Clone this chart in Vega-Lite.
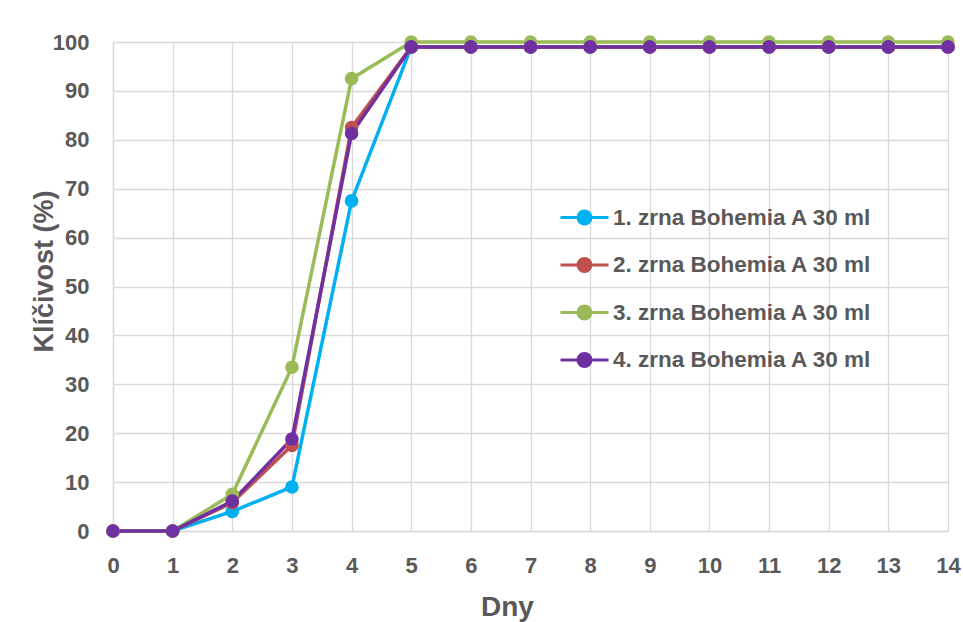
{
  "$schema": "https://vega.github.io/schema/vega-lite/v6.json",
  "width": 835,
  "height": 489,
  "autosize": {"type": "none"},
  "padding": {"left": 113, "top": 42, "right": 15, "bottom": 91},
  "background": "white",
  "data": {
    "values": [
      {"day": 0, "series": "1. zrna Bohemia A 30 ml", "value": 0},
      {"day": 1, "series": "1. zrna Bohemia A 30 ml", "value": 0},
      {"day": 2, "series": "1. zrna Bohemia A 30 ml", "value": 4},
      {"day": 3, "series": "1. zrna Bohemia A 30 ml", "value": 9},
      {"day": 4, "series": "1. zrna Bohemia A 30 ml", "value": 67.5},
      {"day": 5, "series": "1. zrna Bohemia A 30 ml", "value": 99},
      {"day": 6, "series": "1. zrna Bohemia A 30 ml", "value": 99},
      {"day": 7, "series": "1. zrna Bohemia A 30 ml", "value": 99},
      {"day": 8, "series": "1. zrna Bohemia A 30 ml", "value": 99},
      {"day": 9, "series": "1. zrna Bohemia A 30 ml", "value": 99},
      {"day": 10, "series": "1. zrna Bohemia A 30 ml", "value": 99},
      {"day": 11, "series": "1. zrna Bohemia A 30 ml", "value": 99},
      {"day": 12, "series": "1. zrna Bohemia A 30 ml", "value": 99},
      {"day": 13, "series": "1. zrna Bohemia A 30 ml", "value": 99},
      {"day": 14, "series": "1. zrna Bohemia A 30 ml", "value": 99},
      {"day": 0, "series": "2. zrna Bohemia A 30 ml", "value": 0},
      {"day": 1, "series": "2. zrna Bohemia A 30 ml", "value": 0},
      {"day": 2, "series": "2. zrna Bohemia A 30 ml", "value": 5.8},
      {"day": 3, "series": "2. zrna Bohemia A 30 ml", "value": 17.5},
      {"day": 4, "series": "2. zrna Bohemia A 30 ml", "value": 82.5},
      {"day": 5, "series": "2. zrna Bohemia A 30 ml", "value": 99},
      {"day": 6, "series": "2. zrna Bohemia A 30 ml", "value": 99},
      {"day": 7, "series": "2. zrna Bohemia A 30 ml", "value": 99},
      {"day": 8, "series": "2. zrna Bohemia A 30 ml", "value": 99},
      {"day": 9, "series": "2. zrna Bohemia A 30 ml", "value": 99},
      {"day": 10, "series": "2. zrna Bohemia A 30 ml", "value": 99},
      {"day": 11, "series": "2. zrna Bohemia A 30 ml", "value": 99},
      {"day": 12, "series": "2. zrna Bohemia A 30 ml", "value": 99},
      {"day": 13, "series": "2. zrna Bohemia A 30 ml", "value": 99},
      {"day": 14, "series": "2. zrna Bohemia A 30 ml", "value": 99},
      {"day": 0, "series": "3. zrna Bohemia A 30 ml", "value": 0},
      {"day": 1, "series": "3. zrna Bohemia A 30 ml", "value": 0},
      {"day": 2, "series": "3. zrna Bohemia A 30 ml", "value": 7.5},
      {"day": 3, "series": "3. zrna Bohemia A 30 ml", "value": 33.5},
      {"day": 4, "series": "3. zrna Bohemia A 30 ml", "value": 92.5},
      {"day": 5, "series": "3. zrna Bohemia A 30 ml", "value": 100},
      {"day": 6, "series": "3. zrna Bohemia A 30 ml", "value": 100},
      {"day": 7, "series": "3. zrna Bohemia A 30 ml", "value": 100},
      {"day": 8, "series": "3. zrna Bohemia A 30 ml", "value": 100},
      {"day": 9, "series": "3. zrna Bohemia A 30 ml", "value": 100},
      {"day": 10, "series": "3. zrna Bohemia A 30 ml", "value": 100},
      {"day": 11, "series": "3. zrna Bohemia A 30 ml", "value": 100},
      {"day": 12, "series": "3. zrna Bohemia A 30 ml", "value": 100},
      {"day": 13, "series": "3. zrna Bohemia A 30 ml", "value": 100},
      {"day": 14, "series": "3. zrna Bohemia A 30 ml", "value": 100},
      {"day": 0, "series": "4. zrna Bohemia A 30 ml", "value": 0},
      {"day": 1, "series": "4. zrna Bohemia A 30 ml", "value": 0},
      {"day": 2, "series": "4. zrna Bohemia A 30 ml", "value": 6.1},
      {"day": 3, "series": "4. zrna Bohemia A 30 ml", "value": 18.8},
      {"day": 4, "series": "4. zrna Bohemia A 30 ml", "value": 81.3},
      {"day": 5, "series": "4. zrna Bohemia A 30 ml", "value": 99},
      {"day": 6, "series": "4. zrna Bohemia A 30 ml", "value": 99},
      {"day": 7, "series": "4. zrna Bohemia A 30 ml", "value": 99},
      {"day": 8, "series": "4. zrna Bohemia A 30 ml", "value": 99},
      {"day": 9, "series": "4. zrna Bohemia A 30 ml", "value": 99},
      {"day": 10, "series": "4. zrna Bohemia A 30 ml", "value": 99},
      {"day": 11, "series": "4. zrna Bohemia A 30 ml", "value": 99},
      {"day": 12, "series": "4. zrna Bohemia A 30 ml", "value": 99},
      {"day": 13, "series": "4. zrna Bohemia A 30 ml", "value": 99},
      {"day": 14, "series": "4. zrna Bohemia A 30 ml", "value": 99}
    ]
  },
  "mark": {
    "type": "line",
    "strokeWidth": 3.5,
    "point": {"filled": true, "size": 185, "opacity": 1}
  },
  "encoding": {
    "x": {
      "field": "day",
      "type": "quantitative",
      "scale": {"domain": [0, 14], "nice": false, "zero": true},
      "axis": {
        "title": "Dny",
        "values": [0, 1, 2, 3, 4, 5, 6, 7, 8, 9, 10, 11, 12, 13, 14],
        "format": "d",
        "ticks": false,
        "labelPadding": 24,
        "titleX": 394,
        "titleY": 84,
        "titleAlign": "center",
        "titleBaseline": "alphabetic",
        "titleFontSize": 28,
        "labelFlush": false
      }
    },
    "y": {
      "field": "value",
      "type": "quantitative",
      "scale": {"domain": [0, 100], "nice": false},
      "axis": {
        "title": "Klíčivost (%)",
        "values": [0, 10, 20, 30, 40, 50, 60, 70, 80, 90, 100],
        "ticks": false,
        "labelPadding": 24,
        "titleX": -61,
        "titleY": 229,
        "titleAngle": -90,
        "titleAlign": "center",
        "titleBaseline": "alphabetic",
        "titleFontSize": 27,
        "labelFlush": false
      }
    },
    "color": {
      "field": "series",
      "type": "nominal",
      "scale": {
        "domain": ["1. zrna Bohemia A 30 ml", "2. zrna Bohemia A 30 ml", "3. zrna Bohemia A 30 ml", "4. zrna Bohemia A 30 ml"],
        "range": ["#00B0F0", "#C0504D", "#9BBB59", "#7030A0"]
      },
      "legend": {
        "title": null,
        "orient": "none",
        "legendX": 446,
        "legendY": 150,
        "symbolType": "M-1,0H1M-0.27,0A0.27,0.27 0 1 1 0.27,0A0.27,0.27 0 1 1 -0.27,0Z",
        "symbolSize": 2304,
        "symbolStrokeWidth": 3,
        "rowPadding": 9.5,
        "labelFontSize": 22.5,
        "labelFont": "Liberation Sans",
        "labelFontWeight": "bold",
        "labelColor": "#595959",
        "labelOffset": 3,
        "labelLimit": 400,
        "encode": {
          "symbols": {"update": {"fill": {"scale": "color", "field": "value"}, "opacity": {"value": 1}}}
        }
      }
    }
  },
  "config": {
    "view": {"stroke": null},
    "axis": {
      "grid": true,
      "gridColor": "#D9D9D9",
      "gridWidth": 1.3,
      "domainColor": "#D9D9D9",
      "domainWidth": 1.3,
      "labelFont": "Liberation Sans",
      "labelFontSize": 22,
      "labelFontWeight": "bold",
      "labelColor": "#595959",
      "titleFont": "Liberation Sans",
      "titleFontWeight": "bold",
      "titleColor": "#595959"
    }
  }
}
